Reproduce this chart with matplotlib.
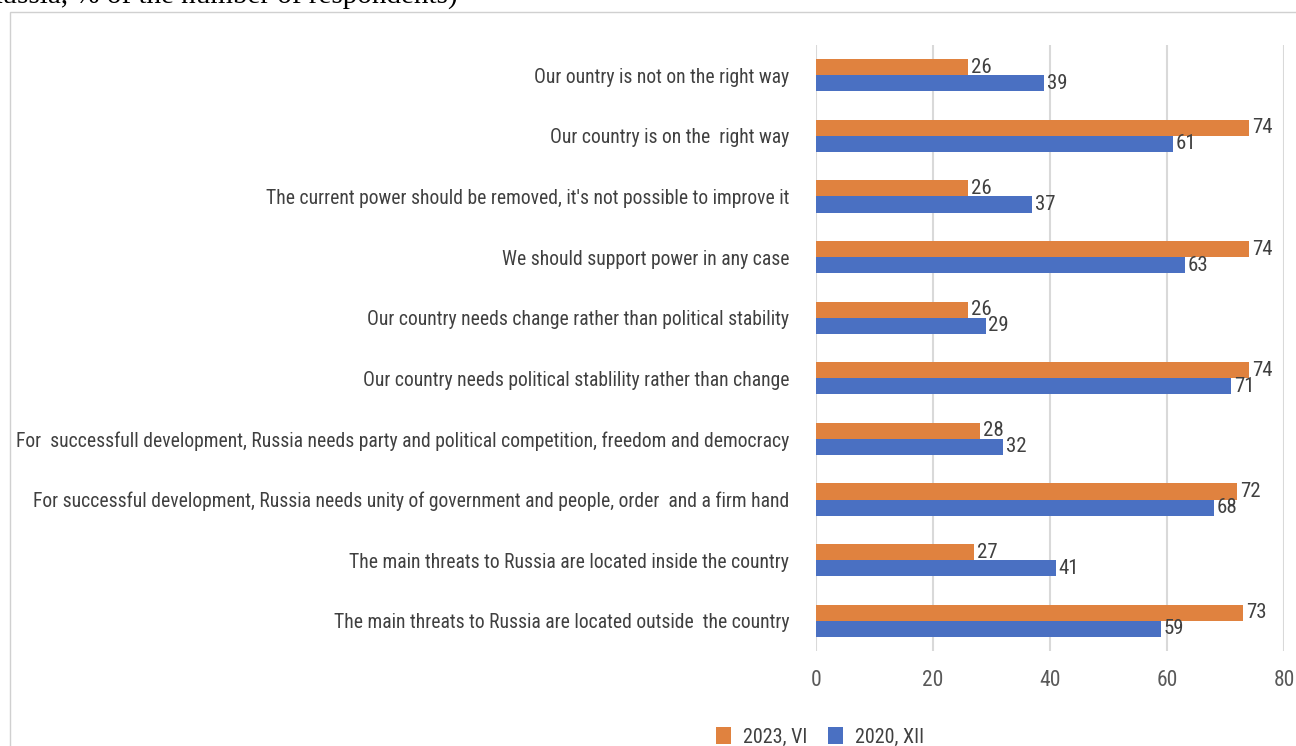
import matplotlib
matplotlib.use("Agg")
import matplotlib.pyplot as plt
import numpy as np
from matplotlib.patches import Rectangle

# data (top to bottom as in the chart)
labels = [
    "Our ountry is not on the right way ",
    "Our country is on the  right way ",
    "The current power should be removed, it's not possible to improve it ",
    "We should support power in any case ",
    "Our country needs change rather than political stability ",
    "Our country needs political stablility rather than change ",
    "For  successfull development, Russia needs party and political competition, freedom and democracy ",
    "For successful development, Russia needs unity of government and people, order  and a firm hand ",
    "The main threats to Russia are located inside the country ",
    "The main threats to Russia are located outside  the country ",
]
vals_2023 = [26, 74, 26, 74, 26, 74, 28, 72, 27, 73]
vals_2020 = [39, 61, 37, 63, 29, 71, 32, 68, 41, 59]

orange = '#E0823F'
blue = '#4A70C2'
txt = '#404040'
font = ['Roboto Condensed', 'DejaVu Sans']
fs = 14.5

fig = plt.figure(figsize=(12.96, 7.46), dpi=100)
ax = fig.add_axes([0.6296, 0.1273, 0.3611, 0.8124])

y = np.arange(len(labels))
h = 0.265
r1 = ax.barh(y - h/2, vals_2023, h, color=orange, label='2023, VI')
r2 = ax.barh(y + h/2, vals_2020, h, color=blue, label='2020, XII')

for rects in (r1, r2):
    for rect in rects:
        w = rect.get_width()
        ax.annotate('{}'.format(w), xy=(w, rect.get_y() + rect.get_height()/2),
                    xytext=(2, 0), textcoords='offset points',
                    ha='left', va='center', fontsize=fs + 0.5, color=txt, family=font)

ax.set_xlim(0, 80)
ax.set_ylim(len(labels) - 0.5, -0.5)
ax.set_xticks([0, 20, 40, 60, 80])
ax.set_yticks(y)
ax.set_yticklabels(labels, family=font, fontsize=14.1, color=txt)
for t in ax.get_xticklabels():
    t.set_family(font)
    t.set_fontsize(fs + 1)
    t.set_color('#595959')
ax.tick_params(axis='y', length=0, pad=16)
ax.tick_params(axis='x', length=0, pad=14)
ax.grid(axis='x', color='#D9D9D9', linewidth=1.5)
ax.set_axisbelow(True)
for s in ax.spines.values():
    s.set_visible(False)

# outer chart frame
fig.patches.append(Rectangle((10/1296, -0.1), 1.2, 1 - 12/746 + 0.1, transform=fig.transFigure,
                             fill=False, edgecolor='#D0D0D0', linewidth=1))

# cut-off caption at the top
fig.text(-0.013, 1 - 4/746, 'Russia, % of the number of respondents)', family=['Liberation Serif', 'DejaVu Serif'],
         fontsize=21, color='black', ha='left', va='baseline')

leg = fig.legend(handles=[r1, r2], loc='center', bbox_to_anchor=(820/1296, 1 - 737/746), ncol=2,
                 frameon=False, prop={'family': font, 'size': fs},
                 handlelength=0.75, handleheight=0.9, columnspacing=1.0, handletextpad=0.6)
for t in leg.get_texts():
    t.set_color(txt)

fig.savefig('out.png', dpi=100)
